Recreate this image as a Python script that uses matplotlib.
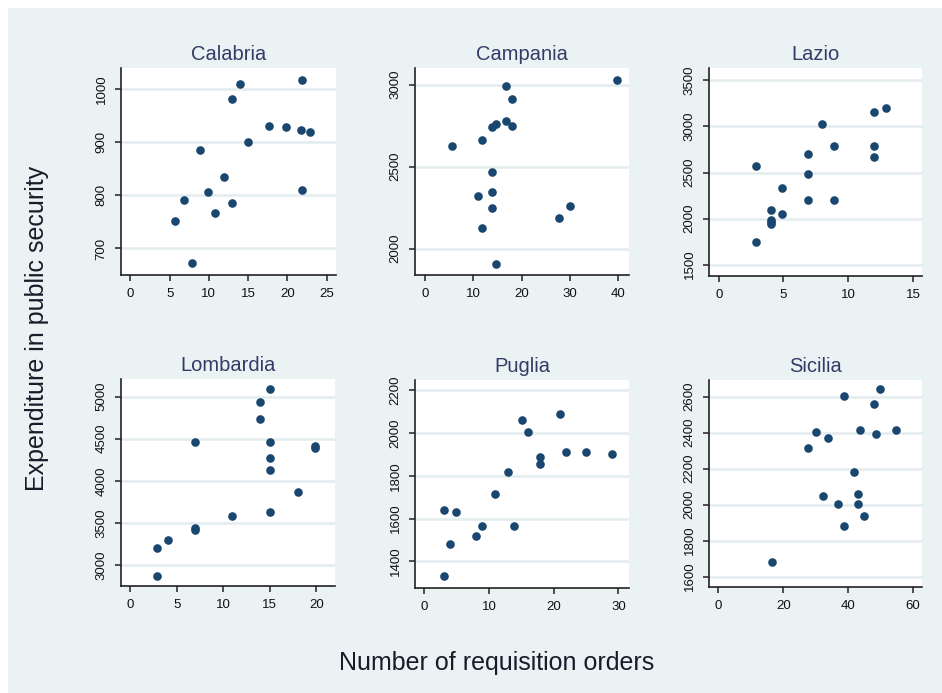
import matplotlib.pyplot as plt
from matplotlib.patches import Rectangle

plt.rcParams['font.family'] = ['Liberation Sans', 'DejaVu Sans']

regions = ["Calabria", "Campania", "Lazio", "Lombardia", "Puglia", "Sicilia"]

calabria_x = [5.7, 6.8, 7.8, 8.9, 9.9, 10.8, 11.9, 12.9, 12.9, 14.0, 15.0, 17.7, 19.8, 21.8, 22.9, 21.9, 21.9]
calabria_y = [751, 792, 672, 886, 807, 766, 834, 785, 981, 1010, 901, 931, 928, 923, 920, 1018, 811]

campania_x = [5.6, 11.8, 13.8, 14.6, 16.7, 18.0, 16.7, 18.0, 13.8, 10.9, 13.8, 13.8, 11.8, 14.6, 27.8, 29.9, 39.7]
campania_y = [2629, 2664, 2739, 2762, 2994, 2910, 2776, 2749, 2470, 2324, 2346, 2250, 2128, 1908, 2189, 2263, 3031]

lazio_x = [2.9, 2.9, 4.0, 4.0, 4.0, 4.0, 4.9, 4.9, 6.9, 6.9, 6.9, 8.0, 8.9, 8.9, 12.0, 12.9, 12.0, 12.0]
lazio_y = [1746, 2576, 2094, 1990, 1960, 1938, 2054, 2337, 2203, 2486, 2703, 3029, 2793, 2203, 3156, 3203, 2793, 2663]

lombardia_x = [2.9, 2.9, 4.0, 7.0, 7.0, 7.0, 10.9, 13.9, 13.9, 15.0, 15.0, 15.0, 15.0, 15.0, 18.0, 19.9, 19.9]
lombardia_y = [2869, 3202, 3298, 3440, 3413, 4464, 3583, 4940, 4738, 5087, 4464, 4274, 4127, 3631, 3869, 4417, 4393]

puglia_x = [3.0, 3.0, 4.9, 3.9, 8.0, 8.9, 11.0, 12.9, 13.8, 15.1, 16.0, 17.9, 17.9, 21.0, 21.9, 25.0, 29.0]
puglia_y = [1331, 1641, 1631, 1480, 1519, 1566, 1714, 1819, 1566, 2063, 2005, 1886, 1855, 2091, 1912, 1912, 1902]

sicilia_x = [16.6, 27.7, 30.2, 33.9, 32.4, 37.0, 38.8, 38.8, 41.9, 43.2, 43.2, 43.6, 45.0, 48.1, 48.7, 49.9, 54.8]
sicilia_y = [1682, 2316, 2403, 2372, 2049, 2003, 1882, 2606, 2183, 2060, 2003, 2416, 1938, 2561, 2394, 2641, 2416]

x_ticks = [
    [0, 5, 10, 15, 20, 25],
    [0, 10, 20, 30, 40],
    [0, 5, 10, 15],
    [0, 5, 10, 15, 20],
    [0, 10, 20, 30],
    [0, 20, 40, 60],
]
y_ticks = [
    [700, 800, 900, 1000],
    [2000, 2500, 3000],
    [1500, 2000, 2500, 3000, 3500],
    [3000, 3500, 4000, 4500, 5000],
    [1400, 1600, 1800, 2000, 2200],
    [1600, 1800, 2000, 2200, 2400, 2600],
]
x_lims = [(-1.2, 26.2), (-2.1, 42.2), (-0.75, 15.7), (-1.0, 22.0), (-1.45, 31.65), (-2.9, 62.8)]
y_lims = [(650, 1040), (1839, 3102), (1377, 3634), (2750, 5210), (1275, 2248), (1542, 2693)]

series = [
    (calabria_x, calabria_y),
    (campania_x, campania_y),
    (lazio_x, lazio_y),
    (lombardia_x, lombardia_y),
    (puglia_x, puglia_y),
    (sicilia_x, sicilia_y),
]

BG = '#eaf2f3'
GRID = '#e3ecef'
MARKER = '#1a476f'
TITLE = '#323c66'

W, H = 942, 693
fig = plt.figure(figsize=(W / 100, H / 100), dpi=100, facecolor='white')
fig.patches.append(Rectangle((8 / W, 0), 1 - 8 / W, 1 - 8 / H, transform=fig.transFigure,
                             facecolor=BG, edgecolor='none', zorder=-10))

# panel boxes in pixels: left, top, right, bottom
boxes = [
    (121, 68, 336, 275),
    (415, 68, 629, 275),
    (709, 68, 922, 276),
    (121, 379, 335, 586),
    (415, 380, 629, 588),
    (709, 380, 922, 587),
]

for i, name in enumerate(regions):
    l, t, r, b = boxes[i]
    ax = fig.add_axes([l / W, 1 - b / H, (r - l) / W, (b - t) / H])
    ax.set_facecolor('white')
    xs, ys = series[i]
    ax.plot(xs, ys, 'o', color=MARKER, markersize=6.2, markeredgewidth=0, zorder=3)
    ax.set_xlim(*x_lims[i])
    ax.set_ylim(*y_lims[i])
    ax.set_xticks(x_ticks[i])
    ax.set_yticks(y_ticks[i])
    ax.yaxis.grid(True, color=GRID, linewidth=1.8)
    ax.set_axisbelow(True)
    for side in ['top', 'right']:
        ax.spines[side].set_visible(False)
    for side in ['left', 'bottom']:
        ax.spines[side].set_color('#222222')
        ax.spines[side].set_linewidth(1.2)
    ax.tick_params(axis='both', length=4.5, width=1.1, color='#222222', labelsize=9.5, labelcolor='#111111')
    ax.tick_params(axis='x', pad=5)
    ax.tick_params(axis='y', pad=5)
    for lab in ax.get_yticklabels():
        lab.set_rotation(90)
        lab.set_va('center')
        lab.set_ha('right')
    ax.set_title(name, fontsize=14.5, color=TITLE, pad=6)

fig.text(497 / W, 1 - 663 / H, 'Number of requisition orders', ha='center', va='center',
         fontsize=18, color='#1a1a2a')
fig.text(37 / W, 1 - 328 / H, 'Expenditure in public security', ha='center', va='center',
         rotation=90, fontsize=18, color='#1a1a2a')

fig.savefig('out.png', dpi=100, facecolor='white')
